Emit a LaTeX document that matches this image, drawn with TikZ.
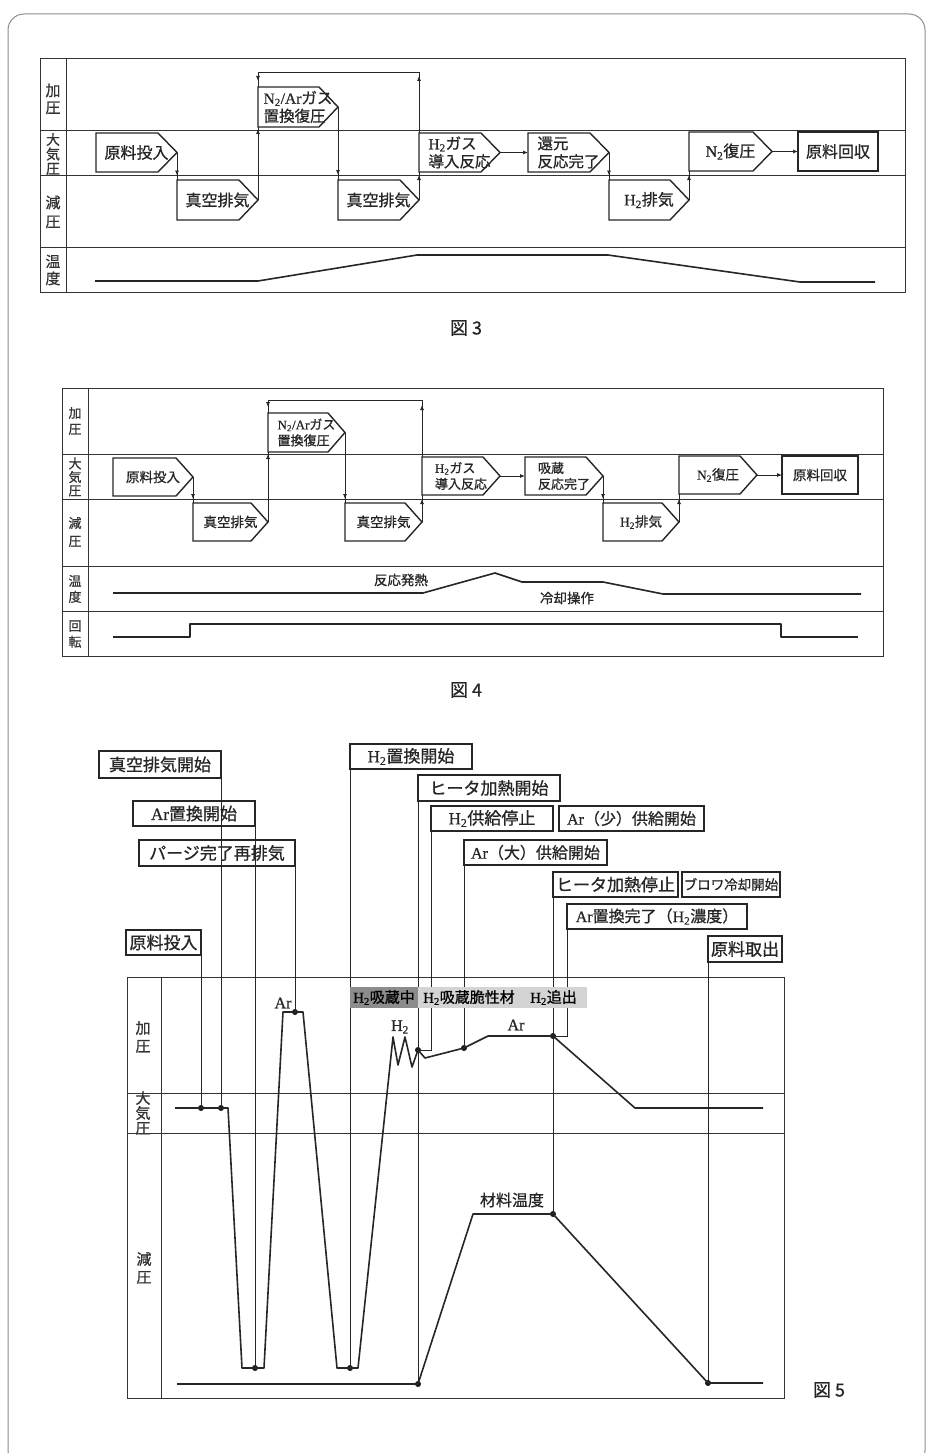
\documentclass[tikz,border=0pt]{standalone}
\usepackage{fontspec}
\setmainfont{Liberation Serif}[FakeBold=0.6]
\newfontfamily\jp{Noto Sans CJK JP}[FakeBold=0.8]
\usetikzlibrary{arrows.meta,decorations.markings,calc}
\newcommand\Hs{{\rmfamily H\textsubscript{2}}}
\newcommand\Ns{{\rmfamily N\textsubscript{2}}}
\newcommand\lat[1]{{\rmfamily #1}}
\tikzset{
 outerframe/.style={draw=black!45, line width=1pt, rounded corners=16pt},
 frame/.style={draw=black!80, line width=0.8pt},
 boxline/.style={draw=black!85, line width=1.4pt, line join=miter},
 conn/.style={draw=black!85, line width=0.8pt},
 curve/.style={draw=black!85, line width=1.6pt, line join=round},
 pentbox/.style={inner sep=0pt, outer sep=0pt, anchor=north west, align=left, text=black!85},
 rectbox/.style={draw=black!85, line width=1.8pt, inner sep=0pt, outer sep=0pt, anchor=north west, text=black!85},
 sidelab/.style={inner sep=0pt, align=center, text=black!80},
 tagbox/.style={draw=black!85, line width=1.5pt, inner sep=0pt, outer sep=0pt, anchor=north west, text=black!85},
 graylab/.style={inner sep=0pt, outer sep=0pt, anchor=north west, text=black, font=\jp\fontsize{15}{15}\selectfont},
 plain/.style={inner sep=0pt, text=black!85},
 dot/.style={circle, fill=black!90, inner sep=0pt, minimum size=6pt},
 mytip/.tip={Latex[length=5pt,width=4pt]},
 arrat/.style={postaction={decorate}, decoration={markings, mark=at position #1 with {\arrow{mytip}}}},
 looparr/.style={postaction={decorate}, decoration={markings, mark=at position #1 with {\arrow{mytip}}, mark=at position -6pt with {\arrow{mytip}}}},
}
% name, xl, yt, xr, yb, slant, fontsize, baselineskip, text
\newcommand\pentagon[9]{%
 \node[pentbox, font=\jp\fontsize{#7}{#8}\selectfont, minimum width={#4pt-#2pt}, minimum height={#5pt-#3pt}] (#1) at (#2,#3) {#9};
 \draw[boxline] (#1.north west) -- ([xshift=-#6pt]#1.north east) -- (#1.east) -- ([xshift=-#6pt]#1.south east) -- (#1.south west) -- cycle;}
% name, xl, yt, xr, yb, fontsize, text
\newcommand\tagb[7]{%
 \node[tagbox, font=\jp\fontsize{#6}{#6}\selectfont, minimum width={#4pt-#2pt}, minimum height={#5pt-#3pt}] (#1) at (#2,#3) {#7};}
\begin{document}
\begin{tikzpicture}[x=1pt,y=-1pt]
\useasboundingbox (0,0) rectangle (930,1453);
\draw[outerframe] (8,14) rectangle (925,1466);

%%%%%%%%%%%%%%%% Fig 3
\draw[frame] (40,58) rectangle (905,292);
\draw[frame] (66,58) -- (66,292);
\foreach \yy in {130,175,247}{\draw[frame] (40,\yy) -- (905,\yy);}
\node[sidelab,font=\jp\fontsize{15}{17}\selectfont] (f3la) at (53,99) {加\\圧};
\node[sidelab,font=\jp\fontsize{14}{14.5}\selectfont] (f3lb) at (53,154) {大\\気\\圧};
\node[sidelab,font=\jp\fontsize{15}{19}\selectfont] (f3lc) at (53,212) {減\\圧};
\node[sidelab,font=\jp\fontsize{15}{17}\selectfont] (f3ld) at (53,270) {温\\度};

\pentagon{A1}{96}{133}{177}{172}{19}{16}{18}{原料投入}
\pentagon{A2}{177}{180}{258}{220}{19}{16}{18}{真空排気}
\pentagon{A3}{258}{87}{338}{127}{19}{15.5}{18}{\lat{N\textsubscript{2}/Ar}ガス\\置換復圧}
\pentagon{A4}{338}{180}{419}{220}{19}{16}{18}{真空排気}
\pentagon{A5}{419}{133}{500}{172}{19}{15.5}{18}{\Hs ガス\\導入反応}
\pentagon{A6}{528}{133}{609}{172}{19}{15.5}{18}{還元\\反応完了}
\pentagon{A7}{609}{180}{689}{220}{19}{16}{18}{\Hs 排気}
\pentagon{A8}{689}{132}{772}{171}{19}{16}{18}{\Ns 復圧}
\node[rectbox, font=\jp\fontsize{16}{16}\selectfont, minimum width=80pt, minimum height=39pt] (A9) at (798,132) {原料回収};

\draw[conn, arrat=23pt] (A1.east) -- (A2.north west);
\draw[conn, arrat=71pt] (A2.east) -- (A3.south west);
\draw[conn, arrat=68pt] (A3.east) -- (A4.north west);
\draw[conn, arrat=25pt] (A4.east) -- (A5.south west);
\draw[conn, looparr=57pt] (A5.north west) -- ++(0,-61) -| (A3.north west);
\draw[conn, -mytip] (A5.east) -- (A6.west);
\draw[conn, arrat=23pt] (A6.east) -- (A7.north west);
\draw[conn, arrat=25pt] (A7.east) -- (A8.south west);
\draw[conn, -mytip] (A8.east) -- (A9.west);

\draw[curve] (95,281) -- (258,281) -- (417,255) -- (608,255) -- (800,282) -- (875,282);
\node[plain, font=\jp\fontsize{18}{18}\selectfont] (cap3) at (466,328) {図 3};

%%%%%%%%%%%%%%%% Fig 4
\draw[frame] (62,388) rectangle (883,656);
\draw[frame] (88,388) -- (88,656);
\foreach \yy in {454,499,566,611}{\draw[frame] (62,\yy) -- (883,\yy);}
\node[sidelab,font=\jp\fontsize{13}{16}\selectfont] (f4la) at (75,421) {加\\圧};
\node[sidelab,font=\jp\fontsize{13}{13.5}\selectfont] (f4lb) at (75,477) {大\\気\\圧};
\node[sidelab,font=\jp\fontsize{13}{18}\selectfont] (f4lc) at (75,532) {減\\圧};
\node[sidelab,font=\jp\fontsize{13}{16}\selectfont] (f4ld) at (75,589) {温\\度};
\node[sidelab,font=\jp\fontsize{13}{16}\selectfont] (f4le) at (75,634) {回\\転};

\pentagon{B1}{113}{458}{193}{496}{17}{13.5}{16}{原料投入}
\pentagon{B2}{193}{503}{268}{541}{17}{13.5}{16}{真空排気}
\pentagon{B3}{268}{413}{345}{452}{17}{13}{16}{\lat{N\textsubscript{2}/Ar}ガス\\置換復圧}
\pentagon{B4}{345}{503}{422}{541}{17}{13.5}{16}{真空排気}
\pentagon{B5}{422}{457}{500}{495}{17}{13}{16}{\Hs ガス\\導入反応}
\pentagon{B6}{525}{457}{603}{495}{17}{13}{16}{吸蔵\\反応完了}
\pentagon{B7}{603}{503}{679}{541}{17}{13.5}{16}{\Hs 排気}
\pentagon{B8}{679}{456}{757}{494}{17}{13.5}{16}{\Ns 復圧}
\node[rectbox, font=\jp\fontsize{13.5}{13.5}\selectfont, minimum width=76pt, minimum height=38pt] (B9) at (782,456) {原料回収};

\draw[conn, arrat=22pt] (B1.east) -- (B2.north west);
\draw[conn, arrat=68pt] (B2.east) -- (B3.south west);
\draw[conn, arrat=66.5pt] (B3.east) -- (B4.north west);
\draw[conn, arrat=23pt] (B4.east) -- (B5.south west);
\draw[conn, looparr=52pt] (B5.north west) -- ++(0,-57) -| (B3.north west);
\draw[conn, -mytip] (B5.east) -- (B6.west);
\draw[conn, arrat=23pt] (B6.east) -- (B7.north west);
\draw[conn, arrat=23pt] (B7.east) -- (B8.south west);
\draw[conn, -mytip] (B8.east) -- (B9.west);

\draw[curve] (113,593) -- (423,593) -- (495,573) -- (522,582) -- (603,582) -- (663,594) -- (861,594);
\node[plain, font=\jp\fontsize{13.5}{13.5}\selectfont] (t4a) at (401,580) {反応発熱};
\node[plain, font=\jp\fontsize{13.5}{13.5}\selectfont] (t4b) at (567,598) {冷却操作};
\draw[curve] (113,637) -- (190,637) -- (190,624) -- (781,624) -- (781,637) -- (858,637);
\node[plain, font=\jp\fontsize{18}{18}\selectfont] (cap4) at (466,690) {図 4};

%%%%%%%%%%%%%%%% Fig 5
\draw[frame] (127,977) rectangle (784,1398);
\draw[frame] (161,977) -- (161,1398);
\foreach \yy in {1093,1133}{\draw[frame] (127,\yy) -- (784,\yy);}
\node[sidelab,font=\jp\fontsize{15}{18}\selectfont] (f5la) at (143,1037) {加\\圧};
\node[sidelab,font=\jp\fontsize{15}{15}\selectfont] (f5lb) at (143,1113) {大\\気\\圧};
\node[sidelab,font=\jp\fontsize{15}{18}\selectfont] (f5lc) at (144,1268) {減\\圧};

\tagb{L1}{99}{751}{221}{778}{17}{真空排気開始}
\tagb{L2}{133}{801}{255}{826}{17}{\lat{Ar}置換開始}
\tagb{L3}{139}{840}{295}{866}{17}{パージ完了再排気}
\tagb{L4}{126}{930}{201}{955}{17}{原料投入}
\tagb{L5}{350}{744}{472}{769}{17}{\Hs 置換開始}
\tagb{L6}{418}{775}{560}{801}{17}{ヒータ加熱開始}
\tagb{L7}{431}{806}{553}{831}{17}{\Hs 供給停止}
\tagb{L8}{559}{806}{704}{831}{16}{\lat{Ar}（少）供給開始}
\tagb{L9}{464}{840}{607}{865}{16}{\lat{Ar}（大）供給開始}
\tagb{L10}{553}{872}{678}{897}{17}{ヒータ加熱停止}
\tagb{L11}{682}{872}{780}{897}{13.5}{ブロワ冷却開始}
\tagb{L12}{567}{904}{747}{929}{16}{\lat{Ar}置換完了（\Hs 濃度）}
\tagb{L13}{708}{936}{782}{962}{17}{原料取出}

\node[dot] (p1) at (201,1108) {};
\node[dot] (p2) at (221,1108) {};
\node[dot] (p3) at (255,1368) {};
\node[dot] (p4) at (295,1012) {};
\node[dot] (p5) at (350,1368) {};
\node[dot] (p6) at (418,1384) {};
\node[dot] (p7) at (418,1050) {};
\node[dot] (p8) at (464,1048) {};
\node[dot] (p9) at (553,1036) {};
\node[dot] (p10) at (553,1214) {};
\node[dot] (p11) at (708,1383) {};

\draw[conn] (L4.south east) -- (p1.center);
\draw[conn] (L1.south east) -- (p2.center);
\draw[conn] (L2.south east) -- (p3.center);
\draw[conn] (L3.south east) -- (p4.center);
\draw[conn] (L5.south west) -- (p5.center);
\draw[conn] (L6.south west) -- (p6.center);
\draw[conn] (L7.south west) |- (p7.center);
\draw[conn] (L9.south west) -- (p8.center);
\draw[conn] (L10.south west) -- (p10.center);
\draw[conn] (L12.south west) |- (p9.center);
\draw[conn] (L13.south west) -- (p11.center);

\draw[curve] (175,1108) -- (p1.center) -- (p2.center) -- (228,1108) -- (242,1368) -- (p3.center) -- (264,1368) -- (283,1012) -- (p4.center) -- (303,1012) -- (337,1368) -- (p5.center) -- (358,1368) -- (393,1037) -- (398,1065) -- (405,1037) -- (412,1067) -- (p7.center) -- (425,1058) -- (p8.center) -- (488,1036) -- (p9.center) -- (635,1108) -- (763,1108);
\draw[curve] (177,1384) -- (p6.center) -- (473,1214) -- (p10.center) -- (p11.center) -- (763,1383);

\node[graylab, fill=black!45, minimum width=68pt, minimum height=21pt] (g1) at (350,987) {\Hs 吸蔵中};
\node[graylab, fill=black!17, minimum width=102pt, minimum height=21pt] (g2) at (418,987) {\Hs 吸蔵脆性材};
\node[graylab, fill=black!17, minimum width=67pt, minimum height=21pt] (g3) at (520,987) {\Hs 追出};

\node[plain, font=\fontsize{16}{16}\selectfont] (t5a) at (283,1003) {Ar};
\node[plain, font=\fontsize{16}{16}\selectfont] (t5b) at (400,1027) {H\textsubscript{2}};
\node[plain, font=\fontsize{16}{16}\selectfont] (t5c) at (516,1025) {Ar};
\node[plain, font=\jp\fontsize{16}{16}\selectfont] (t5d) at (512,1200) {材料温度};
\node[plain, font=\jp\fontsize{18}{18}\selectfont] (cap5) at (829,1390) {図 5};
\end{tikzpicture}
\end{document}
